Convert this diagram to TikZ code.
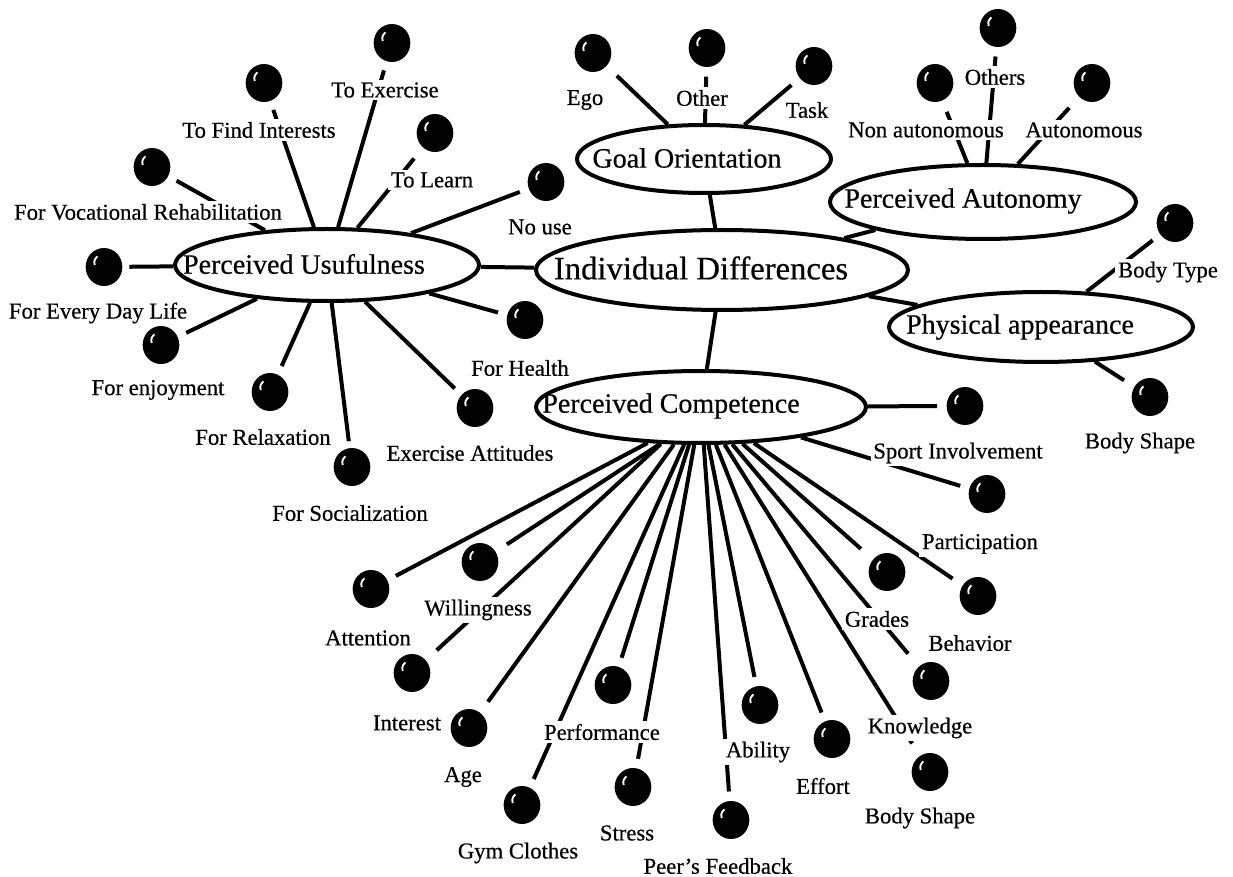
\documentclass[tikz,border=0pt]{standalone}
\usepackage{fontspec}
\setmainfont{Liberation Serif}[FakeBold=0.5]
\usetikzlibrary{shapes.geometric}
\pgfdeclarelayer{back}
\pgfdeclarelayer{bg}
\pgfsetlayers{back,bg,main}
\tikzset{
  ell/.style={draw, line width=3pt, ellipse, fill=white, inner sep=0pt},
  etxt/.style={font=\fontsize{21}{24}\selectfont, inner sep=0pt},
  lbl/.style={fill=white, inner sep=2pt, font=\fontsize{17}{19}\selectfont},
  ball/.style={ellipse, fill=black, inner sep=0pt, minimum width=27.5pt, minimum height=28.5pt,
    path picture={\draw[white, line width=1.4pt]
      ([shift={(-7pt,1.5pt)}]path picture bounding box.center)
      .. controls ([shift={(-7.5pt,5pt)}]path picture bounding box.center)
      .. ([shift={(-5pt,8pt)}]path picture bounding box.center);}},
  conn/.style={line width=3pt, shorten >=7pt}
}
\begin{document}
\begin{tikzpicture}[x=0.75pt, y=-0.75pt]
\begin{pgfonlayer}{back}
\fill[white] (0,0) rectangle (1233,877);
\end{pgfonlayer}
\useasboundingbox (0,0) rectangle (1233,877);

% ellipses
\node[ell, minimum width=279pt, minimum height=60pt] (ID) at (722,270) {};
\node[ell, minimum width=190.5pt, minimum height=51pt] (GO) at (704,159) {};
\node[ell, minimum width=229.5pt, minimum height=55.5pt] (PA) at (983,202) {};
\node[ell, minimum width=228pt, minimum height=52.5pt] (PhA) at (1041,327) {};
\node[ell, minimum width=247.5pt, minimum height=54pt] (PC) at (701,407) {};
\node[ell, minimum width=228pt, minimum height=54pt] (PU) at (327,265) {};

\node[etxt, font=\fontsize{24.5}{28}\selectfont] (IDt) at (701,268) {Individual Differences};
\node[etxt] (GOt) at (687,158) {Goal Orientation};
\node[etxt] (PAt) at (963,201) {Perceived Autonomy};
\node[etxt] (PhAt) at (1020,327) {Physical appearance};
\node[etxt] (PCt) at (671,406) {Perceived Competence};
\node[etxt] (PUt) at (304,264) {Perceived Usufulness};

% balls
\node[ball] (bEx) at (392,43) {};
\node[ball] (bFi) at (264,83) {};
\node[ball] (bVoc) at (152,167) {};
\node[ball] (bLe) at (435,133) {};
\node[ball] (bNu) at (546,182) {};
\node[ball] (bLeft) at (104,267) {};
\node[ball] (bEd) at (161,345) {};
\node[ball] (bEn) at (270,392) {};
\node[ball] (bRe) at (352,467) {};
\node[ball] (bEa) at (475,408) {};
\node[ball] (bHe) at (525,320) {};
\node[ball] (bEgo) at (593,53) {};
\node[ball] (bOth) at (707,48) {};
\node[ball] (bTask) at (814,66) {};
\node[ball] (bNon) at (935,83) {};
\node[ball] (bOths) at (998,28) {};
\node[ball] (bAuto) at (1092,83) {};
\node[ball] (bBT) at (1175,223) {};
\node[ball] (bBS) at (1150,397) {};
\node[ball] (bPCr) at (965,406) {};
\node[ball] (bSp) at (987,494) {};
\node[ball] (bPa) at (978,596) {};
\node[ball] (bGr) at (887,572) {};
\node[ball] (bBe) at (931,681) {};
\node[ball] (bBS2) at (930,772) {};
\node[ball] (bEf) at (832,739) {};
\node[ball] (bAb) at (760,705) {};
\node[ball] (bPeer) at (731,820) {};
\node[ball] (bSt) at (633,787) {};
\node[ball] (bPerf) at (613,685) {};
\node[ball] (bGym) at (522,805) {};
\node[ball] (bAge) at (469,728) {};
\node[ball] (bInt) at (412,673) {};
\node[ball] (bWil) at (480,562) {};
\node[ball] (bAtt) at (371,589) {};

% labels
\node[lbl] (lEx) at (385,90) {To Exercise};
\node[lbl] (lFi) at (259,130) {To Find Interests};
\node[lbl] (lLe) at (432,180) {To Learn};
\node[lbl] (lVoc) at (148,212) {For Vocational Rehabilitation};
\node[lbl] (lNu) at (540,227) {No use};
\node[lbl] (lEd) at (98,313) {For Every Day Life};
\node[lbl] (lEn) at (158,390) {For enjoyment};
\node[lbl] (lRe) at (263,437) {For Relaxation};
\node[lbl] (lSo) at (350,513) {For Socialization};
\node[lbl] (lEa) at (470,453) {Exercise Attitudes};
\node[lbl] (lHe) at (520,368) {For Health};
\node[lbl] (lEgo) at (585,100) {Ego};
\node[lbl] (lOth) at (702,98) {Other};
\node[lbl] (lTask) at (807,110) {Task};
\node[lbl] (lNon) at (926,130) {Non autonomous};
\node[lbl] (lOths) at (995,77) {Others};
\node[lbl] (lAuto) at (1084,130) {Autonomous};
\node[lbl] (lBT) at (1168,272) {Body Type};
\node[lbl] (lBS) at (1140,443) {Body Shape};
\node[lbl] (lSp) at (958,453) {Sport Involvement};
\node[lbl] (lPa) at (980,544) {Participation};
\node[lbl] (lGr) at (877,619) {Grades};
\node[lbl] (lBe) at (970,643) {Behavior};
\node[lbl] (lKn) at (920,728) {Knowledge};
\node[lbl] (lBS2) at (920,818) {Body Shape};
\node[lbl] (lEf) at (823,786) {Effort};
\node[lbl] (lAb) at (758,752) {Ability};
\node[lbl] (lPeer) at (718,866) {Peer's Feedback};
\node[lbl] (lSt) at (627,833) {Stress};
\node[lbl] (lPerf) at (602,732) {Performance};
\node[lbl] (lGym) at (518,853) {Gym Clothes};
\node[lbl] (lAge) at (463,777) {Age};
\node[lbl] (lInt) at (407,723) {Interest};
\node[lbl] (lWil) at (478,610) {Willingness};
\node[lbl] (lAtt) at (368,638) {Attention};

\begin{pgfonlayer}{bg}
% between ellipses
\draw[line width=3pt] (GO) -- (ID);
\draw[line width=3pt] (ID) -- (PC);
\draw[line width=3pt] (ID) -- (PU);
\draw[line width=3pt] (ID) -- (PA);
\draw[line width=3pt] (ID) -- (PhA);
% perceived usefulness
\draw[conn] (PU) -- (bEx);
\draw[conn] (PU) -- (bFi);
\draw[conn] (PU) -- (bVoc);
\draw[conn, shorten >=10.5pt] (PU) -- (bLe);
\draw[conn] (PU) -- (bNu);
\draw[conn, shorten >=5pt] (PU) -- (bLeft);
\draw[conn] (PU) -- (bEd);
\draw[conn] (PU) -- (bEn);
\draw[conn, shorten >=5pt] (PU) -- (bRe);
\draw[conn] (PU) -- (bEa);
\draw[conn] (PU) -- (bHe);
% goal orientation
\draw[conn, shorten >=10.5pt] (GO) -- (bEgo);
\draw[conn] (GO) -- (bOth);
\draw[conn, shorten >=8pt] (GO) -- (bTask);
% perceived autonomy
\draw[conn, shorten >=9pt] (PA) -- (bNon);
\draw[conn] (PA) -- (bOths);
\draw[conn, shorten >=11pt] (PA) -- (bAuto);
% physical appearance
\draw[conn] (PhA) -- (bBT);
\draw[conn, shorten >=9pt] (PhA) -- (bBS);
% perceived competence
\draw[conn] (PC) -- (bPCr);
\draw[conn] (PC) -- (bSp);
\draw[conn, shorten >=9pt] (PC) -- (bPa);
\draw[conn, shorten >=12pt] (PC) -- (bGr);
\draw[conn, shorten >=12.5pt] (PC) -- (bBe);
\draw[conn, shorten >=11pt] (PC) -- (bBS2);
\draw[conn] (PC) -- (bEf);
\draw[conn] (PC) -- (bAb);
\draw[conn] (PC) -- (bPeer);
\draw[conn] (PC) -- (bSt);
\draw[conn] (PC) -- (bPerf);
\draw[conn] (PC) -- (bGym);
\draw[conn, shorten >=10pt] (PC) -- (bAge);
\draw[conn, shorten >=11pt] (PC) -- (bInt);
\draw[conn, shorten >=10pt] (PC.222) -- (bWil);
\draw[conn] (PC.214) -- (bAtt);
\end{pgfonlayer}
\end{tikzpicture}
\end{document}
